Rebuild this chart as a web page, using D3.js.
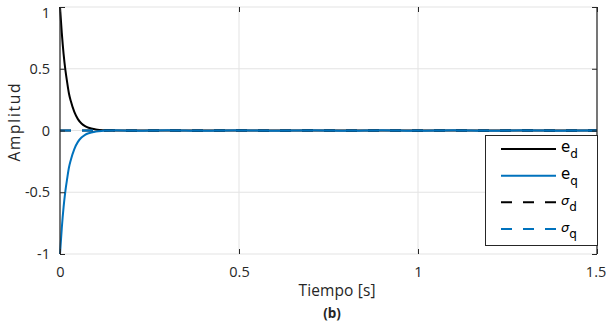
<!DOCTYPE html>
<html>
<head>
<meta charset="utf-8">
<script src="https://cdn.jsdelivr.net/npm/d3@7"></script>
<style>
  html, body { margin: 0; padding: 0; background: #fff; }
  svg { display: block; }
  text { font-family: "Open Sans", Lato, sans-serif; fill: #262626; }
</style>
</head>
<body>
<svg id="chart" width="606" height="322"></svg>
<script>
// Error signals in the d-q frame and their references (sigma)
const time   = [0, 0.005, 0.01, 0.015, 0.02, 0.025, 0.03, 0.04, 0.05, 0.06, 0.07, 0.08, 0.1, 0.12, 0.15, 0.2, 0.3, 0.4, 0.5, 0.6, 0.7, 0.8, 0.9, 1.0, 1.1, 1.2, 1.3, 1.4, 1.5];
const eD     = [1, 0.79, 0.62, 0.49, 0.39, 0.30, 0.24, 0.15, 0.092, 0.057, 0.035, 0.022, 0.009, 0.003, 0.001, 0, 0.001, -0.001, 0.001, 0, 0.001, -0.001, 0, 0.001, 0, -0.001, 0.001, 0, 0];
const eQ     = [-1, -0.79, -0.62, -0.49, -0.39, -0.30, -0.24, -0.15, -0.092, -0.057, -0.035, -0.022, -0.009, -0.003, 0.002, -0.002, 0.003, -0.002, 0.002, -0.003, 0.002, -0.002, 0.003, -0.002, 0.002, -0.003, 0.002, -0.002, 0];
const sigmaT = [0, 1.5];
const sigmaD = [0, 0];
const sigmaQ = [0, 0];

const xTicks = [0, 0.5, 1, 1.5];
const yTicks = [-1, -0.5, 0, 0.5, 1];
const xLabel = "Tiempo [s]";
const yLabel = "Amplitud";
const caption = "(b)";

const blue = "#0072BD";
const fmt = d => String(d);   // plain hyphen for negatives

const svg = d3.select("#chart");
const mLeft = 60, mRight = 597, mTop = 7, mBottom = 254;

const x = d3.scaleLinear().domain([0, 1.5]).range([mLeft, mRight]);
const y = d3.scaleLinear().domain([-1, 1]).range([mBottom, mTop]);

// grid
const grid = svg.append("g");
grid.selectAll(".gx").data(xTicks).join("line")
  .attr("x1", d => x(d)).attr("x2", d => x(d))
  .attr("y1", mTop).attr("y2", mBottom)
  .attr("stroke", "#e3e3e3").attr("stroke-width", 1);
grid.selectAll(".gy").data(yTicks).join("line")
  .attr("x1", mLeft).attr("x2", mRight)
  .attr("y1", d => y(d)).attr("y2", d => y(d))
  .attr("stroke", "#e3e3e3").attr("stroke-width", 1);

// series
const pts = (xs, ys) => xs.map((t, i) => [t, ys[i]]);
const line = d3.line().x(d => x(d[0])).y(d => y(d[1])).curve(d3.curveMonotoneX);

const plot = svg.append("g");
plot.append("path").datum(pts(time, eD)).attr("d", line)
  .attr("fill", "none").attr("stroke", "#000").attr("stroke-width", 2);
plot.append("path").datum(pts(time, eQ)).attr("d", line)
  .attr("fill", "none").attr("stroke", blue).attr("stroke-width", 2);
plot.append("path").datum(pts(sigmaT, sigmaD)).attr("d", line)
  .attr("fill", "none").attr("stroke", "#000").attr("stroke-width", 2)
  .attr("stroke-dasharray", "11,11");
plot.append("path").datum(pts(sigmaT, sigmaQ)).attr("d", line)
  .attr("fill", "none").attr("stroke", blue).attr("stroke-width", 2.2)
  .attr("stroke-dasharray", "11,11");

// axes: left & right dark, with inward ticks
const axes = svg.append("g");
axes.append("line").attr("x1", mLeft).attr("x2", mLeft).attr("y1", mTop).attr("y2", mBottom)
  .attr("stroke", "#262626").attr("stroke-width", 1.2);
axes.append("line").attr("x1", mRight).attr("x2", mRight).attr("y1", mTop).attr("y2", mBottom)
  .attr("stroke", "#262626").attr("stroke-width", 1.2);

const yAxis = d3.axisLeft(y).tickValues(yTicks).tickFormat(fmt).tickSizeInner(-5).tickSizeOuter(0).tickPadding(10);
const gy = svg.append("g").attr("transform", `translate(${mLeft},0)`).call(yAxis);
gy.select(".domain").remove();
gy.selectAll(".tick line").attr("stroke", "#262626");
gy.selectAll(".tick text").attr("font-size", 14.5).attr("font-family", null).style("fill", "#262626")
  .attr("dy", d => d === 1 ? "0.72em" : "0.32em");

const yAxisR = d3.axisRight(y).tickValues(yTicks).tickFormat("").tickSizeInner(-5).tickSizeOuter(0);
const gyr = svg.append("g").attr("transform", `translate(${mRight},0)`).call(yAxisR);
gyr.select(".domain").remove();
gyr.selectAll(".tick line").attr("stroke", "#262626");

const xAxis = d3.axisBottom(x).tickValues(xTicks).tickFormat(fmt).tickSizeInner(-5).tickSizeOuter(0).tickPadding(13);
const gx = svg.append("g").attr("transform", `translate(0,${mBottom})`).call(xAxis);
gx.select(".domain").remove();
gx.selectAll(".tick line").attr("stroke", "#262626");
gx.selectAll(".tick text").attr("font-size", 14.5).attr("font-family", null).style("fill", "#262626")
  .attr("dx", d => d === 1.5 ? "-0.1em" : null);

const xAxisT = d3.axisTop(x).tickValues(xTicks).tickFormat("").tickSizeInner(-5).tickSizeOuter(0);
const gxt = svg.append("g").attr("transform", `translate(0,${mTop})`).call(xAxisT);
gxt.select(".domain").remove();
gxt.selectAll(".tick line").attr("stroke", "#262626");

// labels
svg.append("text").attr("x", 337).attr("y", 296).attr("text-anchor", "middle")
  .attr("font-size", 15.5).attr("textLength", 77).attr("lengthAdjust", "spacing").text(xLabel);
svg.append("text").attr("x", 332).attr("y", 318).attr("text-anchor", "middle")
  .attr("font-size", 13.5).attr("font-weight", "bold").text(caption);
svg.append("text").attr("transform", "translate(20,122.5) rotate(-90)")
  .attr("text-anchor", "middle").attr("font-size", 15.5)
  .attr("textLength", 78).attr("lengthAdjust", "spacing").text(yLabel);

// legend
const legendItems = [
  { base: "e", sub: "d", color: "#000", dash: null, greek: false },
  { base: "e", sub: "q", color: blue, dash: null, greek: false },
  { base: "\u03C3", sub: "d", color: "#000", dash: "11,11", greek: true },
  { base: "\u03C3", sub: "q", color: blue, dash: "11,11", greek: true }
];
const lg = svg.append("g");
lg.append("rect").attr("x", 485.5).attr("y", 135.5).attr("width", 112).attr("height", 110)
  .attr("fill", "#fff").attr("stroke", "#262626").attr("stroke-width", 1);
const ly = d3.scalePoint().domain(d3.range(legendItems.length)).range([149, 229]);
legendItems.forEach((it, i) => {
  const yy = ly(i);
  lg.append("line").attr("x1", 501).attr("x2", 556).attr("y1", yy).attr("y2", yy)
    .attr("stroke", it.color).attr("stroke-width", 2)
    .attr("stroke-dasharray", it.dash);
  const t = lg.append("text").attr("x", 561).attr("y", yy + 3).attr("font-size", 14)
    .style("fill", "#000").style("font-family", "'DejaVu Sans', sans-serif");
  t.append("tspan").text(it.base).attr("font-style", it.greek ? "italic" : null)
    .attr("font-size", it.greek ? 13 : 15);
  t.append("tspan").text(it.sub).attr("dy", 6).attr("font-size", 12);
});
</script>
</body>
</html>
